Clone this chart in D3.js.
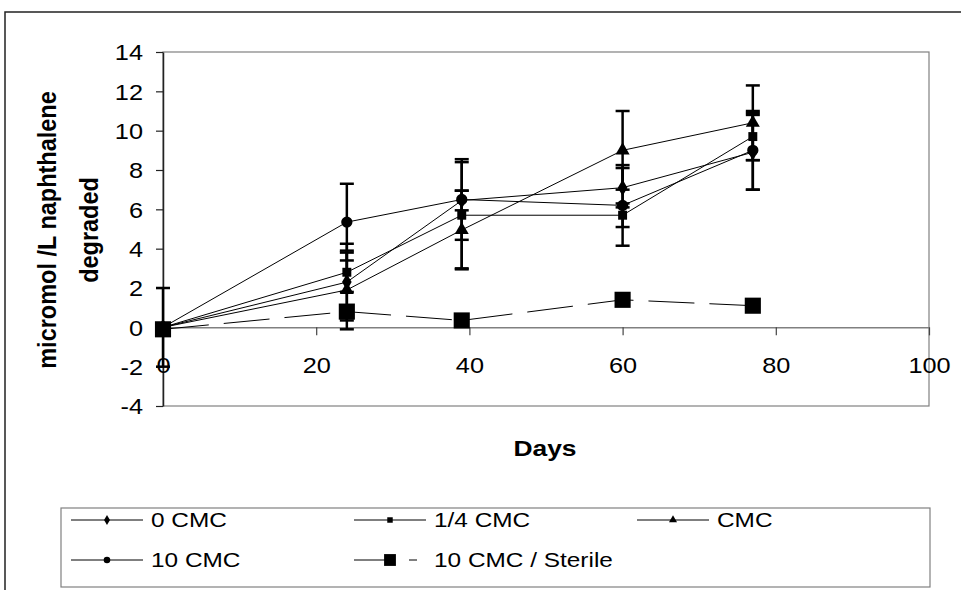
<!DOCTYPE html>
<html>
<head>
<meta charset="utf-8">
<script src="https://cdn.jsdelivr.net/npm/d3@7"></script>
<style>
  html, body { margin: 0; padding: 0; background: #fff; }
  svg { display: block; font-family: Arial, "Liberation Sans", sans-serif; }
</style>
</head>
<body>
<svg id="chart" width="961" height="590"></svg>
<script>
// ---- data ----
const days = [0, 24, 39, 60, 77];
const xTicks = [0, 20, 40, 60, 80, 100];
const yTicks = [-4, -2, 0, 2, 4, 6, 8, 10, 12, 14];
const seriesNames = ["0 CMC", "1/4 CMC", "CMC", "10 CMC", "10 CMC / Sterile"];
const cmc0 = [0, 2.3, 6.45, 7.1, 8.9];
const cmc0Err = [0, 1.95, 0.5, 1.0, 1.9];
const cmcQuarter = [0, 2.8, 5.7, 5.7, 9.7];
const cmcQuarterErr = [0, 1.0, 2.7, 0.6, 1.2];
const cmc1 = [0, 1.9, 4.95, 9.0, 10.4];
const cmc1Err = [0, 2.0, 2.0, 2.0, 1.9];
const cmc10 = [0, 5.35, 6.5, 6.2, 9.0];
const cmc10Err = [2.0, 1.95, 2.05, 2.05, 2.0];
const sterile = [-0.1, 0.8, 0.35, 1.4, 1.1];
const sterileErr = [0, 0.3, 0, 0, 0];

const seriesValues = [cmc0, cmcQuarter, cmc1, cmc10, sterile];
const seriesErrors = [cmc0Err, cmcQuarterErr, cmc1Err, cmc10Err, sterileErr];
const seriesSymbols = [d3.symbolDiamond, d3.symbolSquare, d3.symbolTriangle, d3.symbolCircle, d3.symbolSquare];
const seriesSizes = [80, 80, 85, 100, 260];
const legendSizes = [30, 30, 28, 34, 140];
const seriesDash = [null, null, null, null, "46,15"];

// ---- layout ----
const svg = d3.select("#chart");
const x = d3.scaleLinear().domain([0, 100]).range([163, 929]);
const y = d3.scaleLinear().domain([-4, 14]).range([406, 52]);
const SX = 1.15;

// outer chart frame (top and left edges visible)
svg.append("path").attr("d", "M5,600 L5,12 L970,12")
  .attr("fill", "none").attr("stroke", "#222").attr("stroke-width", 1.5);

// plot area border
svg.append("rect")
  .attr("x", x(0)).attr("y", y(14))
  .attr("width", x(100) - x(0)).attr("height", y(-4) - y(14))
  .attr("fill", "none").attr("stroke", "#808080").attr("stroke-width", 1.2);

// y axis
const yAxis = svg.append("g").attr("transform", `translate(${x(0)},0)`)
  .call(d3.axisLeft(y).tickValues(yTicks).tickSize(7).tickSizeOuter(0).tickFormat(d => String(d)));
yAxis.select(".domain").attr("stroke", "#222").attr("stroke-width", 1.5);
yAxis.selectAll(".tick line").attr("stroke", "#222").attr("stroke-width", 1.2);
yAxis.selectAll(".tick text")
  .attr("x", null).attr("dy", "0.35em")
  .attr("transform", `translate(-20,0) scale(${SX},1)`)
  .style("font-size", "22px").attr("fill", "#000");

// x axis at y=0
const xAxis = svg.append("g").attr("transform", `translate(0,${y(0)})`)
  .call(d3.axisBottom(x).tickValues(xTicks).tickSize(8).tickSizeOuter(0).tickFormat(d => String(d)));
xAxis.select(".domain").attr("stroke", "#808080").attr("stroke-width", 1.5);
xAxis.selectAll(".tick line").attr("stroke", "#444").attr("stroke-width", 1.2);
xAxis.selectAll(".tick text")
  .attr("y", null).attr("dy", "0.35em")
  .attr("transform", `translate(0,38) scale(${SX},1)`)
  .style("font-size", "22px").attr("fill", "#000");
svg.selectAll(".tick text").style("font-family", "Arial, 'Liberation Sans', sans-serif");

// error bars
const errG = svg.append("g");
seriesValues.forEach((vals, si) => {
  vals.forEach((v, i) => {
    const e = seriesErrors[si][i];
    if (!e) return;
    const cx = x(days[i]);
    errG.append("line").attr("x1", cx).attr("x2", cx)
      .attr("y1", y(v - e)).attr("y2", y(v + e))
      .attr("stroke", "#000").attr("stroke-width", 2.5);
    [v - e, v + e].forEach(t => {
      errG.append("line").attr("x1", cx - 7).attr("x2", cx + 7)
        .attr("y1", y(t)).attr("y2", y(t))
        .attr("stroke", "#000").attr("stroke-width", 2.5);
    });
  });
});

// lines & markers
const line = d3.line().x((d, i) => x(days[i])).y(d => y(d));
seriesValues.forEach((vals, si) => {
  svg.append("path").datum(vals)
    .attr("d", line).attr("fill", "none").attr("stroke", "#000")
    .attr("stroke-width", 1)
    .attr("stroke-dasharray", seriesDash[si]);
  svg.append("g").selectAll("path").data(vals).join("path")
    .attr("transform", (d, i) => `translate(${x(days[i])},${y(d)})`)
    .attr("d", d3.symbol().type(seriesSymbols[si]).size(seriesSizes[si]))
    .attr("fill", "#000");
});

// axis titles
const yTitleLines = ["micromol /L naphthalene", "degraded"];
const yTitleX = [47, 89];
yTitleLines.forEach((t, i) => {
  svg.append("text")
    .attr("transform", `translate(${yTitleX[i]},230) rotate(-90) scale(1,1.12)`)
    .attr("text-anchor", "middle").attr("dy", "0.35em")
    .style("font-size", "23.5px").style("font-weight", "bold").text(t);
});
svg.append("text")
  .attr("transform", `translate(545,448) scale(1.2,1)`)
  .attr("text-anchor", "middle").attr("dy", "0.35em")
  .style("font-size", "22px").style("font-weight", "bold").text("Days");

// legend
svg.append("rect").attr("x", 61).attr("y", 508).attr("width", 869).attr("height", 79)
  .attr("fill", "#fff").attr("stroke", "#808080").attr("stroke-width", 1.2);
const legendCols = [71, 354, 637, 71, 354];
const legendRows = [520, 520, 520, 560, 560];
const legendDash = [null, null, null, null, "33,22,8,100"];
seriesNames.forEach((name, si) => {
  const lx = legendCols[si], ly = legendRows[si];
  svg.append("line").attr("x1", lx).attr("x2", lx + 72).attr("y1", ly).attr("y2", ly)
    .attr("stroke", "#000").attr("stroke-width", 1)
    .attr("stroke-dasharray", legendDash[si]);
  svg.append("path").attr("transform", `translate(${lx + 36},${ly})`)
    .attr("d", d3.symbol().type(seriesSymbols[si]).size(legendSizes[si])).attr("fill", "#000");
  svg.append("text").attr("transform", `translate(${lx + 80},${ly}) scale(1.22,1)`)
    .attr("dy", "0.35em").style("font-size", "20px").text(name);
});
</script>
</body>
</html>
